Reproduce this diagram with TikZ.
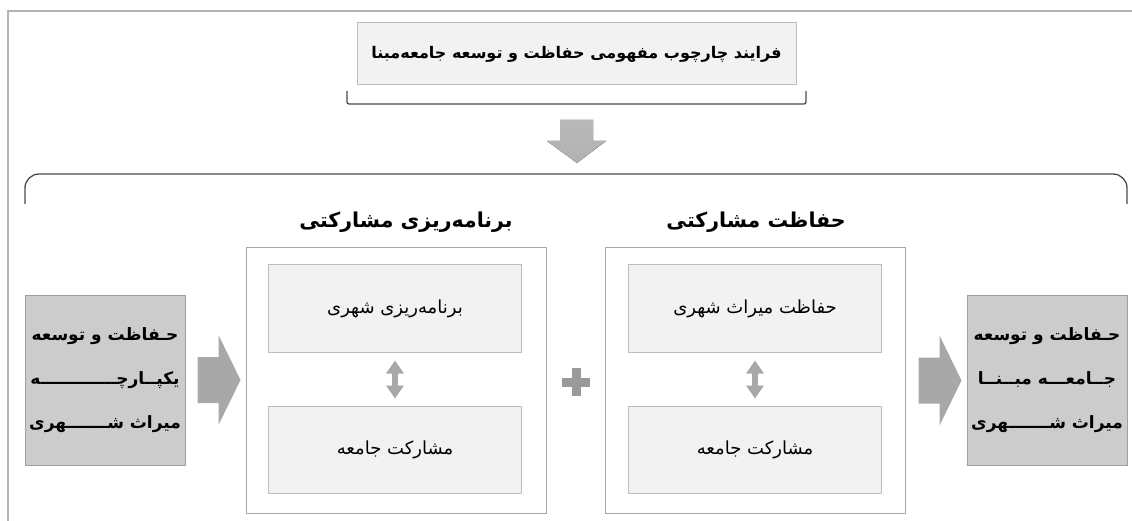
\documentclass[tikz,border=0pt]{standalone}
\usepackage{fontspec}
\usetikzlibrary{arrows.meta}
\TeXXeTstate=1
\newfontfamily\fa[Script=Arabic]{DejaVu Sans}
\definecolor{framegray}{HTML}{B4B4B4}
\definecolor{boxfill}{HTML}{F2F2F2}
\definecolor{boxline}{HTML}{BDBDBD}
\definecolor{outline}{HTML}{A6A6A6}
\definecolor{darkfill}{HTML}{CCCCCC}
\definecolor{darkline}{HTML}{A0A0A0}
\definecolor{arrowgray}{HTML}{A8A8A8}
\definecolor{plusgray}{HTML}{9A9A9A}
\definecolor{bracegray}{HTML}{4A4A4A}
\begin{document}
\begin{tikzpicture}[x=1pt,y=-1pt,
  titlebox/.style={draw=boxline, fill=boxfill, line width=1pt, inner sep=0pt},
  outerbox/.style={draw=outline, fill=white, line width=1pt, inner sep=0pt},
  innerbox/.style={draw=boxline, fill=boxfill, line width=1pt, inner sep=0pt, minimum width=253pt, minimum height=87pt, font=\fa\fontsize{18}{21}\selectfont},
  graybox/.style={draw=darkline, fill=darkfill, line width=1pt, inner sep=0pt, minimum width=160pt, minimum height=170pt, align=center, font=\fa\bfseries\fontsize{17}{44}\selectfont},
  heading/.style={inner sep=0pt, font=\fa\bfseries\fontsize{20.5}{24}\selectfont},
  dbl/.style={arrowgray, line width=5.5pt, {Triangle[width=17pt,length=13pt]}-{Triangle[width=17pt,length=13pt]}},
  brk/.style={bracegray, line width=1.3pt}
]
\useasboundingbox (0,0) rectangle (1132,521);
\fill[white] (0,0) rectangle (1132,521);
\draw[framegray, line width=1.2pt] (8,521) -- (8,11) -- (1132,11);

% title
\node[titlebox, minimum width=439pt, minimum height=62pt, font=\fa\bfseries\fontsize{16}{20}\selectfont] (title) at (576.5,54) {\beginR فرایند چارچوب مفهومی حفاظت و توسعه جامعه‌مبنا\endR};

% bracket under title
\coordinate (bl) at (347,91);
\coordinate (br) at (806,91);
\draw[brk, rounded corners=2pt] (bl) -- (347,104) -- (806,104) -- (br);

% down arrow
\fill[top color=arrowgray!80, bottom color=arrowgray!100!black!90] (560,120) -- (593,120) -- (593,141) -- (606,141) -- (577,163) -- (547,141) -- (560,141) -- cycle;

% big brace
\draw[brk, rounded corners=14pt] (25,204) -- (25,174) -- (1127,174) -- (1127,204);

% headings
\node[heading] (hp) at (406,222) {\beginR برنامه‌ریزی مشارکتی\endR};
\node[heading] (hc) at (756,222) {\beginR حفاظت مشارکتی\endR};

% outer boxes
\node[outerbox, minimum width=300pt, minimum height=265pt] (op) at (396,380.5) {};
\node[outerbox, minimum width=300pt, minimum height=265pt] (oc) at (755.5,380.5) {};

% inner boxes
\node[innerbox] (p1) at (395,308.5) {\beginR برنامه‌ریزی شهری\endR};
\node[innerbox] (p2) at (395,449.5) {\beginR مشارکت جامعه\endR};
\node[innerbox] (c1) at (755,308.5) {\beginR حفاظت میراث شهری\endR};
\node[innerbox] (c2) at (755,449.5) {\beginR مشارکت جامعه\endR};

\draw[dbl] ([yshift=-8pt]p1.south) -- ([yshift=7pt]p2.north);
\draw[dbl] ([yshift=-8pt]c1.south) -- ([yshift=7pt]c2.north);

% plus
\coordinate (plus) at (576,382);
\fill[plusgray] (plus) ++(-4.5,-14) rectangle ++(9,28);
\fill[plusgray] (plus) ++(-14,-4.5) rectangle ++(28,9);

% gray boxes
\node[graybox] (lg) at (105,380) {\beginR حـفاظت و توسعه\endR\\ \beginR یکپــارچـــــــــــــه\endR\\ \beginR میراث شـــــــهری\endR};
\node[graybox] (rg) at (1047,380) {\beginR حـفاظت و توسعه\endR\\ \beginR جــامعـــه مبــنــا\endR\\ \beginR میراث شـــــــهری\endR};

% chevron arrows
\fill[arrowgray] (lg.east) ++(12,-23) -- ++(21,0) -- ++(0,-22) -- ++(22,45) -- ++(-22,45) -- ++(0,-22) -- ++(-21,0) -- cycle;
\fill[arrowgray] (oc.east) ++(12.5,-23) -- ++(21,0) -- ++(0,-22) -- ++(22,45) -- ++(-22,45) -- ++(0,-22) -- ++(-21,0) -- cycle;
\end{tikzpicture}
\end{document}
